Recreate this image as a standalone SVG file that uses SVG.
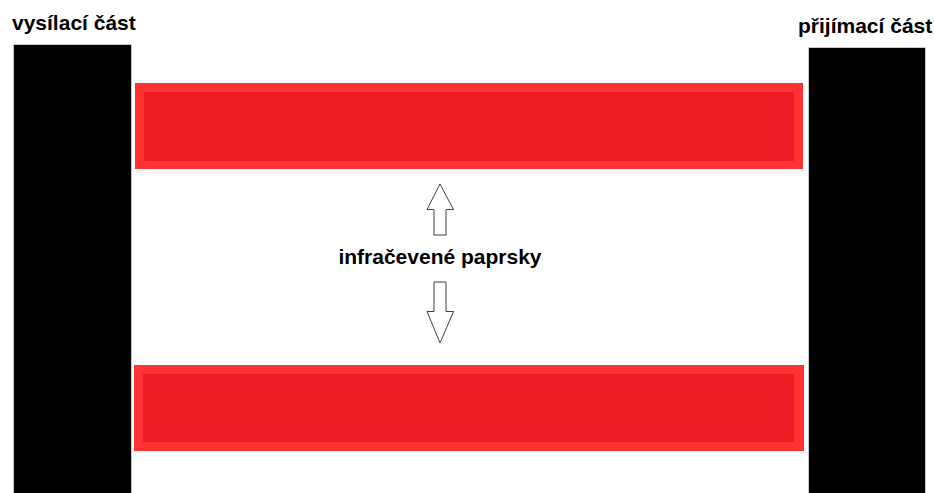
<svg xmlns="http://www.w3.org/2000/svg" width="934" height="493" viewBox="0 0 934 493">
<style>
.lbl{font-family:"Liberation Sans",Arial,sans-serif;font-weight:bold;font-size:21px;fill:#000}
.unit{fill:#000;stroke:#c8c8c8;stroke-width:1}
.beam-o{fill:#ff3333}
.beam-i{fill:#ed1c24}
.arr{fill:#fff;stroke:#404040;stroke-width:1}
</style>
<rect width="934" height="493" fill="#fff"/>
<g id="vysilaci">
<rect class="unit" x="13.5" y="44.5" width="118" height="460"/>
<text class="lbl" x="12" y="30">vysílací část</text>
</g>
<g id="prijimaci">
<rect class="unit" x="808.5" y="47.5" width="117" height="460"/>
<text class="lbl" x="798" y="33">přijímací část</text>
</g>
<g id="paprsek-horni">
<rect class="beam-o" x="135" y="83" width="668" height="86"/>
<rect class="beam-i" x="144" y="92" width="650" height="69"/>
</g>
<g id="paprsek-dolni">
<rect class="beam-o" x="134" y="365" width="670" height="86"/>
<rect class="beam-i" x="143" y="374" width="651" height="68"/>
</g>
<g id="popis">
<text class="lbl" x="440" y="264" text-anchor="middle">infračevené paprsky</text>
</g>
<g id="connectors">
<polygon class="arr" points="440,184 453.5,209.5 446,209.5 446,235 434,235 434,209.5 427,209.5"/>
<polygon class="arr" points="434,282 446,282 446,311.5 453.5,311.5 440,343 427,311.5 434,311.5"/>
</g>
</svg>
